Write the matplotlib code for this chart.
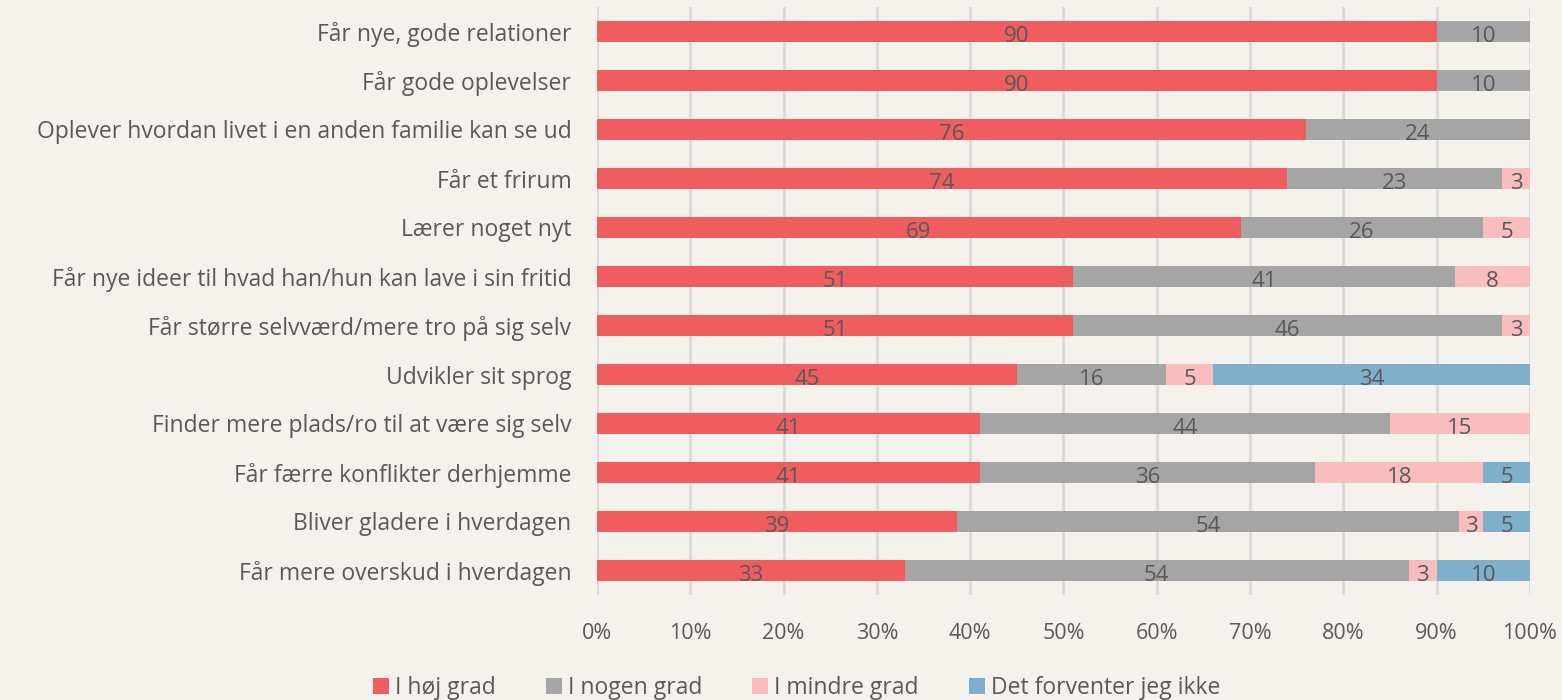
import matplotlib.pyplot as plt
import numpy as np

plt.rcParams['font.family'] = ['Open Sans', 'DejaVu Sans']

categories = [
    "Får nye, gode relationer",
    "Får gode oplevelser",
    "Oplever hvordan livet i en anden familie kan se ud",
    "Får et frirum",
    "Lærer noget nyt",
    "Får nye ideer til hvad han/hun kan lave i sin fritid",
    "Får større selvværd/mere tro på sig selv",
    "Udvikler sit sprog",
    "Finder mere plads/ro til at være sig selv",
    "Får færre konflikter derhjemme",
    "Bliver gladere i hverdagen",
    "Får mere overskud i hverdagen",
]
series = ["I høj grad", "I nogen grad", "I mindre grad", "Det forventer jeg ikke"]
hoej = [90, 90, 76, 74, 69, 51, 51, 45, 41, 41, 38.6, 33]
nogen = [10, 10, 24, 23, 26, 41, 46, 16, 44, 36, 53.8, 54]
mindre = [0, 0, 0, 3, 5, 8, 3, 5, 15, 18, 2.6, 3]
ikke = [0, 0, 0, 0, 0, 0, 0, 34, 0, 5, 5.1, 10]
colors = ["#F05D5E", "#A5A5A5", "#F9BDBD", "#7FB0CB"]

bg = "#F5F2EE"
txt = "#595959"

fig = plt.figure(figsize=(15.62, 7), dpi=100, facecolor=bg)
ax = fig.add_axes([0.3822, 0.15, 0.5973, 0.84], facecolor=bg)

y = np.arange(len(categories))
left = np.zeros(len(categories))
for name, vals, c in zip(series, [hoej, nogen, mindre, ikke], colors):
    vals = np.array(vals, dtype=float)
    ax.barh(y, vals, left=left, height=0.41, color=c, label=name, zorder=3)
    for yi, l, v in zip(y, left, vals):
        if v > 0:
            ax.text(l + v / 2, yi + 0.1, f"{int(v + 0.5)}", ha="center", va="center",
                    fontsize=16, color=txt, zorder=4)
    left += vals

ax.set_ylim(len(categories) - 0.5, -0.5)
ax.set_xlim(0, 100)
ax.set_yticks(y)
ax.set_yticklabels(categories, fontsize=16.5, color=txt)
ax.set_xticks(np.arange(0, 101, 10))
ax.set_xticklabels([f"{t}%" for t in range(0, 101, 10)], fontsize=15.5, color=txt)
ax.tick_params(axis="both", length=0)
ax.tick_params(axis="x", pad=20)
ax.tick_params(axis="y", pad=18.5)
ax.grid(axis="x", color="#D9D9D9", linewidth=2, zorder=0)
for s in ax.spines.values():
    s.set_visible(False)

fig.legend(loc="lower center", bbox_to_anchor=(0.51, -0.03), ncol=4, frameon=False,
           fontsize=16.5, labelcolor=txt, handlelength=0.7, handleheight=0.7,
           handletextpad=0.25, columnspacing=2.2)

fig.savefig("out.png", dpi=100, facecolor=bg)
